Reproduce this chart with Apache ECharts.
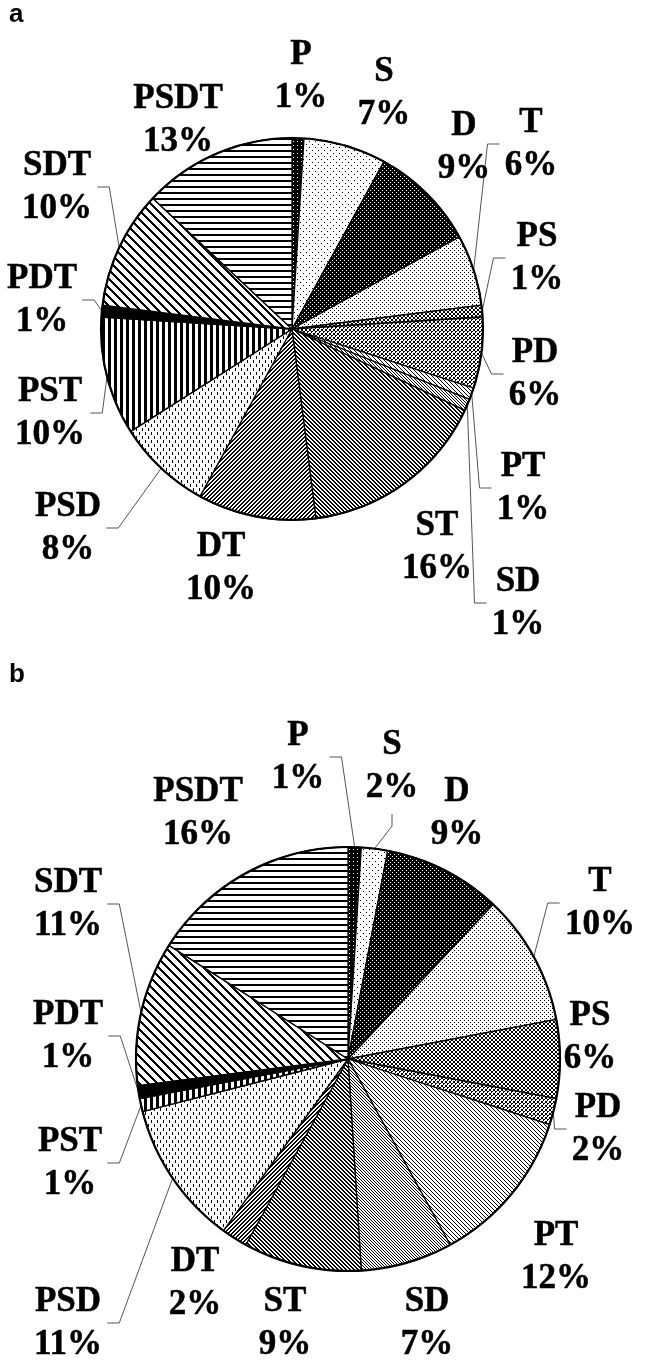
<!DOCTYPE html>
<html>
<head>
<meta charset="utf-8">
<script src="https://cdn.jsdelivr.net/npm/echarts@6/dist/echarts.min.js"></script>
<style>
  html, body { margin: 0; padding: 0; background: #fff; }
  #chart { width: 646px; height: 1364px; }
</style>
</head>
<body>
<div id="chart"></div>
<script>
// Slice categories, clockwise from 12 o'clock
const categories = ['P', 'S', 'D', 'T', 'PS', 'PD', 'PT', 'SD', 'ST', 'DT', 'PSD', 'PST', 'PDT', 'SDT', 'PSDT'];
// Percent shares, panel a
const sharesA = [1, 7, 9, 6, 1, 6, 1, 1, 16, 10, 8, 10, 1, 10, 13];
// Percent shares, panel b
const sharesB = [1, 2, 9, 10, 6, 2, 12, 7, 9, 2, 11, 1, 1, 11, 16];

// Label block centres (px) and leader-line side for each slice
const labelPosA = [[301, 76], [384, 93], [464, 147], [531, 144], [537, 258], [535, 374], [523, 488], [518, 603],
                   [437, 547], [221, 568], [68, 528], [50, 413], [42, 300], [57, 187], [178, 120]];
const leaderA = [null, null, null, 'L', 'L', 'L', 'L', 'L', null, null, 'R', 'R', 'R', 'R', null];
const labelPosB = [[298, 757], [392, 766], [457, 813], [600, 903], [590, 1037], [598, 1129], [556, 1257], [427, 1323],
                   [285, 1323], [195, 1283], [68, 1323], [70, 1163], [68, 1036], [68, 904], [198, 813]];
const leaderB = ['R', 'B', null, 'L', 'D', 'L', null, null, null, null, 'R', 'R', 'R', 'R', null];

// Small bitmap tiles used as monochrome fill patterns
function tile(w, h, bg, fg, test) {
  const c = document.createElement('canvas');
  c.width = w; c.height = h;
  const g = c.getContext('2d');
  g.fillStyle = bg; g.fillRect(0, 0, w, h);
  g.fillStyle = fg;
  for (let y = 0; y < h; y++) for (let x = 0; x < w; x++) if (test(x, y)) g.fillRect(x, y, 1, 1);
  return { image: c, repeat: 'repeat' };
}
const W = '#fff', K = '#000';
const patterns = {
  P:    tile(4, 4, K, W, (x, y) => x === 1 && y === 1),
  S:    tile(6, 6, W, K, (x, y) => (x === 0 && y === 0) || (x === 3 && y === 3)),
  D:    tile(4, 4, K, W, (x, y) => (x === 0 && y === 0) || (x === 2 && y === 2)),
  T:    tile(4, 4, W, K, (x, y) => (x === 0 && y === 0) || (x === 2 && y === 2)),
  PS:   tile(4, 4, W, K, (x, y) => x === y || x + y === 3),
  PD:   tile(4, 4, W, K, (x, y) => (x === y || x + y === 3) && !(x === 0 && y === 0)),
  PT:   tile(4, 4, W, K, (x, y) => (x - y + 4) % 4 === 0),
  SD:   tile(3, 3, W, K, (x, y) => (x - y + 3) % 3 === 0),
  ST:   tile(4, 4, W, K, (x, y) => (x - y + 8) % 4 < 2),
  DT:   tile(4, 4, W, K, (x, y) => (x + y) % 4 < 2),
  PSD:  tile(6, 8, W, K, (x, y) => (x === 1 && y < 3) || (x === 4 && y >= 4 && y < 7)),
  PST:  tile(6, 1, W, K, (x) => x < 3),
  PDT:  K,
  SDT:  tile(9, 9, W, K, (x, y) => (x - y + 18) % 9 < 3),
  PSDT: tile(1, 6, W, K, (x, y) => y < 2)
};

const labelFont = '"Liberation Serif", "Times New Roman", serif';

function pieSeries(values, center, radius, labelPos, leader) {
  return {
    type: 'pie',
    center: center,
    radius: radius,
    startAngle: 90,
    clockwise: true,
    avoidLabelOverlap: false,
    silent: true,
    animation: false,
    itemStyle: { borderColor: '#000', borderWidth: 1.3 },
    label: {
      show: true,
      position: 'outside',
      formatter: '{b}\n{c}%',
      fontFamily: labelFont,
      fontWeight: 'bold',
      fontSize: 35,
      lineHeight: 43,
      color: '#000',
      textBorderColor: '#000',
      textBorderWidth: 0.5
    },
    labelLine: { show: true, length: 10, length2: 10, lineStyle: { color: '#555', width: 1 } },
    labelLayout: function (p) {
      const pos = labelPos[p.dataIndex];
      const out = { x: pos[0], y: pos[1], align: 'center', verticalAlign: 'middle' };
      const side = leader[p.dataIndex];
      if (side && p.labelLinePoints) {
        const edge = p.labelLinePoints[0];
        const hw = p.labelRect.width / 2, hh = p.labelRect.height / 2;
        if (side === 'L') {
          out.labelLinePoints = [edge, [pos[0] - hw - 17, pos[1]], [pos[0] - hw - 5, pos[1]]];
        } else if (side === 'R') {
          out.labelLinePoints = [edge, [pos[0] + hw + 17, pos[1]], [pos[0] + hw + 5, pos[1]]];
        } else if (side === 'B') {
          out.labelLinePoints = [edge, [pos[0], pos[1] + hh + 17], [pos[0], pos[1] + hh + 5]];
        } else {
          out.labelLinePoints = [edge, [pos[0] - hw - 4, pos[1] + 2]];
        }
      }
      return out;
    },
    data: categories.map((name, i) => ({
      name: name,
      value: values[i],
      itemStyle: { color: patterns[name] },
      labelLine: { show: !!leader[i] }
    }))
  };
}

// Heavier outer rim drawn over each pie
function rimSeries(values, center, radius) {
  return {
    type: 'pie',
    center: center,
    radius: radius,
    silent: true,
    animation: false,
    label: { show: false },
    labelLine: { show: false },
    data: [{
      value: values.reduce((a, b) => a + b, 0),
      itemStyle: { color: 'rgba(0,0,0,0)', borderColor: '#000', borderWidth: 2.2 }
    }]
  };
}

const titleStyle = { fontFamily: '"Liberation Sans", Arial, sans-serif', fontWeight: 'bold', fontSize: 26, color: '#000' };
const chart = echarts.init(document.getElementById('chart'), null, { renderer: 'canvas' });
chart.setOption({
  animation: false,
  backgroundColor: '#fff',
  title: [
    { text: 'a', left: 9, top: 2, padding: 0, textStyle: titleStyle },
    { text: 'b', left: 9, top: 662, padding: 0, textStyle: titleStyle }
  ],
  series: [
    pieSeries(sharesA, [292, 329], 191, labelPosA, leaderA),
    rimSeries(sharesA, [292, 329], 191),
    pieSeries(sharesB, [348, 1059], 212, labelPosB, leaderB),
    rimSeries(sharesB, [348, 1059], 212)
  ]
});
</script>
</body>
</html>
